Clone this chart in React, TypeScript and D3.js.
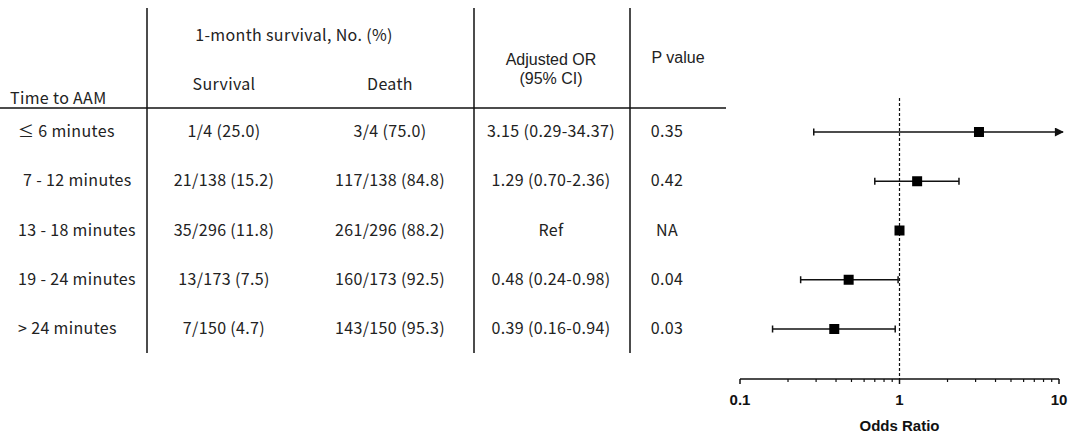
import React from "react";
import * as d3 from "d3";

const groups = ["≤ 6 minutes", "7 - 12 minutes", "13 - 18 minutes", "19 - 24 minutes", "> 24 minutes"];
const survivalText = ["1/4 (25.0)", "21/138 (15.2)", "35/296 (11.8)", "13/173 (7.5)", "7/150 (4.7)"];
const deathText = ["3/4 (75.0)", "117/138 (84.8)", "261/296 (88.2)", "160/173 (92.5)", "143/150 (95.3)"];
const orText = ["3.15 (0.29-34.37)", "1.29 (0.70-2.36)", "Ref", "0.48 (0.24-0.98)", "0.39 (0.16-0.94)"];
const pText = ["0.35", "0.42", "NA", "0.04", "0.03"];
const orValue = [3.15, 1.29, 1, 0.48, 0.39];
const ciLow: (number | null)[] = [0.29, 0.7, null, 0.24, 0.16];
const ciHigh: (number | null)[] = [34.37, 2.36, null, 0.98, 0.94];
const xTicks = [0.1, 1, 10];
const xTickLabels = ["0.1", "1", "10"];

const W = 1071;
const H = 436;
const FONT = "'Noto Sans CJK JP', 'Noto Sans', sans-serif";
const SANS = "'Liberation Sans', Arial, sans-serif";
const TXT = "#222";

export default function App() {
  const x = d3.scaleLog().domain([0.1, 10]).range([740, 1059]);
  const y = d3.scalePoint<string>().domain(groups).range([131, 328]);
  const minor: number[] = [];
  for (const dec of [0.1, 1]) for (let k = 2; k <= 9; k++) minor.push(dec * k);
  const axisY = 379;
  const textDy = 6;

  const colSurv = 224;
  const colDeath = 390;
  const colOR = 551;
  const colP = 667;

  return (
    <svg width={W} height={H} style={{ display: "block", position: "absolute", left: 0, top: 0 }}>
      <defs>
        <marker id="arr" viewBox="0 0 10 10" refX="9" refY="5" markerWidth="10" markerHeight="9" markerUnits="userSpaceOnUse" orient="auto">
          <path d="M0,0 L10,5 L0,10 z" fill="#111" />
        </marker>
      </defs>
      <rect width={W} height={H} fill="#fff" />
      {/* table lines */}
      <g stroke="#111" strokeWidth={1.5}>
        <line x1={147} x2={147} y1={8} y2={353} />
        <line x1={474} x2={474} y1={8} y2={353} />
        <line x1={630} x2={630} y1={8} y2={353} />
        <line x1={0} x2={726} y1={108} y2={108} />
      </g>
      {/* headers */}
      <g fontFamily={FONT} fontSize={16} letterSpacing={0.35} fill={TXT}>
        <text x={10} y={104}>Time to AAM</text>
        <text x={294} y={41} textAnchor="middle">1-month survival, No. (%)</text>
        <text x={colSurv} y={90} textAnchor="middle">Survival</text>
        <text x={colDeath} y={90} textAnchor="middle">Death</text>
        {groups.map((g, i) => (
          <g key={g}>
            <text x={i === 1 ? 23 : 18} y={(y(g) as number) + textDy}>{g}</text>
            <text x={colSurv} y={(y(g) as number) + textDy} textAnchor="middle">{survivalText[i]}</text>
            <text x={colDeath} y={(y(g) as number) + textDy} textAnchor="middle">{deathText[i]}</text>
            <text x={colOR} y={(y(g) as number) + textDy} textAnchor="middle">{orText[i]}</text>
            <text x={colP} y={(y(g) as number) + textDy} textAnchor="middle">{pText[i]}</text>
          </g>
        ))}
      </g>
      <g fontFamily={SANS} fontSize={16} fill={TXT}>
        <text x={colOR} y={65} textAnchor="middle">Adjusted OR</text>
        <text x={colOR} y={83.5} textAnchor="middle">(95% CI)</text>
        <text x={678} y={63} textAnchor="middle">P value</text>
      </g>
      {/* forest plot */}
      <line x1={x(1)} x2={x(1)} y1={98} y2={axisY} stroke="#111" strokeWidth={1.2} strokeDasharray="3,2" />
      {groups.map((g, i) => {
        const cy = (y(g) as number) + 1;
        const lo = ciLow[i];
        const hi = ciHigh[i];
        const clipped = hi !== null && hi > 10;
        return (
          <g key={g}>
            {lo !== null && hi !== null && (
              <g stroke="#111" strokeWidth={1.5}>
                <line x1={x(lo)} x2={clipped ? x(10) + 4 : x(hi)} y1={cy} y2={cy} markerEnd={clipped ? "url(#arr)" : undefined} />
                <line x1={x(lo)} x2={x(lo)} y1={cy - 3.5} y2={cy + 3.5} />
                {!clipped && <line x1={x(hi)} x2={x(hi)} y1={cy - 3.5} y2={cy + 3.5} />}
              </g>
            )}
            <rect x={x(orValue[i]) - 5} y={cy - 5} width={10} height={10} fill="#000" />
          </g>
        );
      })}
      {/* axis */}
      <g stroke="#111" strokeWidth={1.5}>
        <line x1={x(0.1)} x2={x(10)} y1={axisY} y2={axisY} />
        {xTicks.map((t) => (
          <line key={t} x1={x(t)} x2={x(t)} y1={axisY} y2={axisY + 5} />
        ))}
        {minor.map((t) => (
          <line key={t} x1={x(t)} x2={x(t)} y1={axisY} y2={axisY + 3} strokeWidth={1.2} />
        ))}
      </g>
      <g fontFamily={SANS} fontWeight="bold" fontSize={15} fill="#111">
        {xTicks.map((t, i) => (
          <text key={t} x={x(t)} y={405} textAnchor="middle">{xTickLabels[i]}</text>
        ))}
        <text x={x(1)} y={431} textAnchor="middle">Odds Ratio</text>
      </g>
    </svg>
  );
}
